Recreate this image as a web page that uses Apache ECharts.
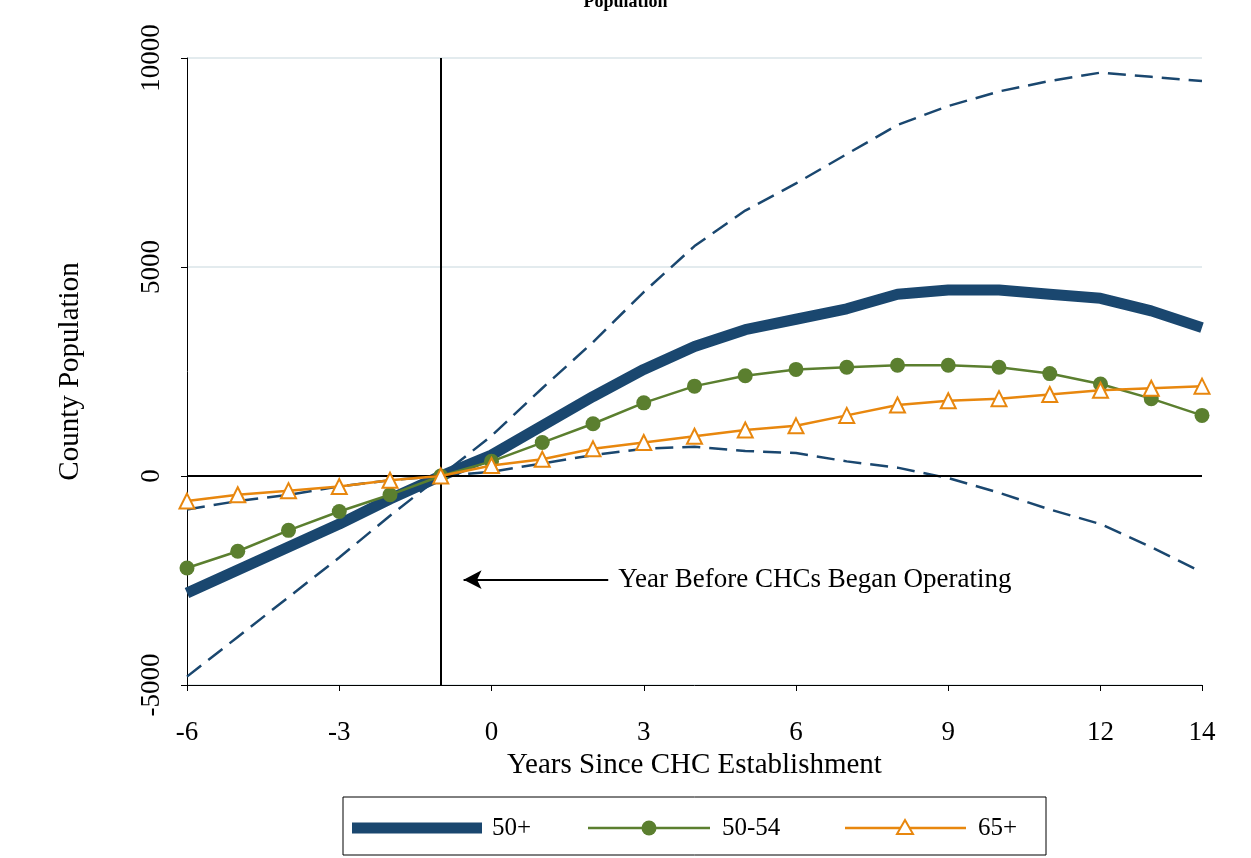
<!DOCTYPE html>
<html>
<head>
<meta charset="utf-8">
<script src="https://cdn.jsdelivr.net/npm/echarts@6/dist/echarts.min.js"></script>
<style>
  html, body { margin: 0; padding: 0; background: #fff; }
  #chart { width: 1251px; height: 858px; }
</style>
</head>
<body>
<div id="chart"></div>
<script>
// years since CHC establishment
const years = [-6,-5,-4,-3,-2,-1,0,1,2,3,4,5,6,7,8,9,10,11,12,13,14];
const xTicks = [-6,-3,0,3,6,9,12,14];

// estimates
const pop50plus = [-2800,-2250,-1700,-1150,-550,0,500,1200,1900,2550,3100,3500,3750,4000,4350,4450,4450,4350,4250,3950,3550];
const ciA = [-800,-600,-450,-250,-100,0,960,2100,3200,4400,5500,6350,7000,7700,8400,8850,9200,9450,9650,9550,9450];
const ciB = [-4800,-3850,-2900,-1950,-950,0,100,300,500,650,700,600,550,350,200,-50,-400,-800,-1150,-1700,-2300];
const pop5054 = [-2200,-1800,-1300,-850,-450,0,350,800,1250,1750,2150,2400,2550,2600,2650,2650,2600,2450,2200,1850,1450];
const pop65plus = [-600,-450,-350,-250,-100,0,250,400,650,800,950,1100,1200,1450,1700,1800,1850,1950,2050,2100,2150];

const font = '"Liberation Serif", "Times New Roman", serif';
const navy = '#1a476f', green = '#5b7f2f', orange = '#e8870e';

function pairs(vals) {
  return years.map((y, i) => [y, vals[i]]);
}

// legend drawn by hand (stata style keys)
const ly = 828;
const legendGraphic = [
  { type: 'rect', shape: { x: 343, y: 797, width: 703, height: 58 }, style: { fill: '#fff', stroke: '#000', lineWidth: 1 } },
  { type: 'line', shape: { x1: 352, y1: ly, x2: 482, y2: ly }, style: { stroke: navy, lineWidth: 11 } },
  { type: 'text', x: 492, y: ly, style: { text: '50+', font: '25px ' + font, fill: '#000', verticalAlign: 'middle' } },
  { type: 'line', shape: { x1: 588, y1: ly, x2: 710, y2: ly }, style: { stroke: green, lineWidth: 2.5 } },
  { type: 'circle', shape: { cx: 649, cy: ly, r: 7.5 }, style: { fill: green } },
  { type: 'text', x: 722, y: ly, style: { text: '50-54', font: '25px ' + font, fill: '#000', verticalAlign: 'middle' } },
  { type: 'line', shape: { x1: 845, y1: ly, x2: 966, y2: ly }, style: { stroke: orange, lineWidth: 2.5 } },
  { type: 'polygon', shape: { points: [[905, ly - 8], [913, ly + 6], [897, ly + 6]] }, style: { fill: '#fff', stroke: orange, lineWidth: 2 } },
  { type: 'text', x: 978, y: ly, style: { text: '65+', font: '25px ' + font, fill: '#000', verticalAlign: 'middle' } }
];

const chart = echarts.init(document.getElementById('chart'));

chart.setOption({
  animation: false,
  textStyle: { fontFamily: font },
  title: {
    text: 'Population',
    left: 'center', top: -12,
    textStyle: { fontFamily: font, fontSize: 18, fontWeight: 'bold', color: '#000' }
  },
  grid: { left: 187, right: 49, top: 58, bottom: 173 },
  xAxis: {
    type: 'value', min: -6, max: 14,
    name: 'Years Since CHC Establishment',
    nameLocation: 'middle', nameGap: 62,
    nameTextStyle: { fontFamily: font, fontSize: 29, color: '#000' },
    axisLine: { onZero: false, lineStyle: { color: '#000' } },
    axisTick: { customValues: xTicks, length: 6, lineStyle: { color: '#000' } },
    axisLabel: { customValues: xTicks, fontSize: 27, color: '#000', margin: 34 },
    splitLine: { show: false }
  },
  yAxis: {
    type: 'value', min: -5000, max: 10000, interval: 5000,
    name: 'County Population',
    nameLocation: 'middle', nameGap: 102,
    nameTextStyle: { fontFamily: font, fontSize: 29, color: '#000' },
    axisLine: { show: true, onZero: false, lineStyle: { color: '#000' } },
    axisTick: { show: true, length: 6, lineStyle: { color: '#000' } },
    axisLabel: { rotate: 90, fontSize: 27, color: '#000', margin: 22, formatter: v => String(v) },
    splitLine: { show: true, lineStyle: { color: '#e3ebee', width: 2 } }
  },
  graphic: legendGraphic,
  series: [
    {
      name: 'ciA', type: 'line', data: pairs(ciA), symbol: 'none',
      lineStyle: { color: navy, width: 2.5, type: [18, 9] }, z: 2
    },
    {
      name: 'ciB', type: 'line', data: pairs(ciB), symbol: 'none',
      lineStyle: { color: navy, width: 2.5, type: [18, 9] }, z: 2
    },
    {
      name: '50+', type: 'line', data: pairs(pop50plus), symbol: 'none',
      itemStyle: { color: navy },
      lineStyle: { color: navy, width: 11 }, z: 3,
      markLine: {
        silent: true, symbol: 'none', label: { show: false },
        lineStyle: { color: '#000', width: 2, type: 'solid' },
        data: [{ xAxis: -1 }, { yAxis: 0 }]
      }
    },
    {
      name: '50-54', type: 'line', data: pairs(pop5054),
      symbol: 'circle', symbolSize: 15,
      itemStyle: { color: green },
      lineStyle: { color: green, width: 2.5 }, z: 4
    },
    {
      name: '65+', type: 'line', data: pairs(pop65plus),
      symbol: 'triangle', symbolSize: 15,
      itemStyle: { color: '#fff', borderColor: orange, borderWidth: 2 },
      lineStyle: { color: orange, width: 2.5 }, z: 5,
      markLine: {
        silent: true, symbol: ['none', 'arrow'], symbolSize: [14, 18],
        lineStyle: { color: '#000', width: 2, type: 'solid' },
        label: {
          show: true, position: 'start', formatter: 'Year Before CHCs Began Operating',
          fontFamily: font, fontSize: 27, color: '#000', distance: 10
        },
        data: [[{ coord: [2.3, -2480] }, { coord: [-0.55, -2480] }]]
      }
    }
  ]
});
</script>
</body>
</html>
